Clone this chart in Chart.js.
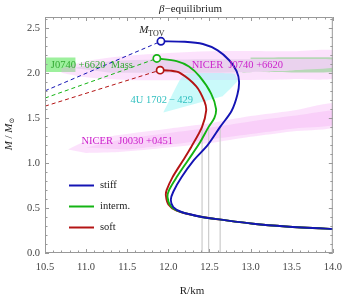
<!DOCTYPE html>
<html>
<head>
<meta charset="utf-8">
<script src="https://cdn.jsdelivr.net/npm/chart.js@4.4.1/dist/chart.umd.min.js"></script>
<style>
  html, body { margin: 0; padding: 0; background: #fff; }
  canvas { display: block; }
</style>
</head>
<body>
<canvas id="chart" width="350" height="299"></canvas>
<script>
const SERIF = '"Liberation Serif", "DejaVu Serif", serif';

// axis ticks
const xTicks = [10.5, 11.0, 11.5, 12.0, 12.5, 13.0, 13.5, 14.0];
const yTicks = [0.0, 0.5, 1.0, 1.5, 2.0, 2.5];

// mass-radius curves, R in km and M in solar masses
const stiffR = [11.91, 12.20, 12.42, 12.60, 12.74, 12.83, 12.86, 12.84, 12.77, 12.63, 12.48, 12.31, 12.16, 12.06, 12.03, 12.06, 12.16, 12.41, 12.64, 13.03, 13.43, 14.0, 14.3];
const stiffM = [2.35, 2.345, 2.32, 2.25, 2.14, 2.02, 1.90, 1.76, 1.58, 1.40, 1.20, 1.03, 0.84, 0.68, 0.59, 0.51, 0.455, 0.40, 0.37, 0.325, 0.295, 0.267, 0.255];
const intermR = [11.86, 12.10, 12.25, 12.38, 12.52, 12.58, 12.56, 12.49, 12.38, 12.24, 12.10, 12.01, 11.99, 12.03, 12.14, 12.41, 12.64, 13.03, 13.43, 14.0, 14.3];
const intermM = [2.16, 2.13, 2.07, 1.96, 1.77, 1.60, 1.50, 1.40, 1.22, 1.03, 0.84, 0.70, 0.62, 0.52, 0.46, 0.40, 0.37, 0.325, 0.295, 0.267, 0.255];
const softR = [11.90, 12.02, 12.14, 12.34, 12.44, 12.46, 12.41, 12.28, 12.18, 12.05, 11.98, 11.97, 12.00, 12.10, 12.30, 12.41, 12.64, 13.03, 13.43, 14.0, 14.3];
const softM = [2.03, 2.025, 2.00, 1.85, 1.68, 1.58, 1.40, 1.18, 1.03, 0.84, 0.70, 0.64, 0.54, 0.47, 0.42, 0.40, 0.37, 0.325, 0.295, 0.267, 0.255];

// maximum mass points and the dashed extrapolations towards smaller R
const tovR = [11.91, 11.86, 11.90];
const tovM = [2.35, 2.16, 2.03];
const dashStartR = 10.5;
const dashStartM = [1.80, 1.72, 1.63];

// radius of a 1.4 Msun star for each EOS
const r14 = [12.63, 12.49, 12.41];
const m14 = 1.4;

// observational regions
// J0740+6620 mass band, only the parts left uncovered by the NICER contour
const bandLeftR = [10.5, 10.87, 10.87, 10.5];
const bandLeftM = [2.01, 2.01, 2.17, 2.17];
const bandTopR = [13.0, 14.1, 14.1, 13.5, 13.0];
const bandTopM = [2.17, 2.17, 2.14, 2.15, 2.15];
const bandBottomR = [12.9, 14.1, 14.1, 13.5, 12.9];
const bandBottomM = [2.01, 2.01, 2.07, 2.03, 2.005];
const j0740OuterR = [10.7, 11.0, 11.5, 12.5, 13.5, 14.1, 14.1, 13.5, 12.5, 11.5, 11.0, 10.7];
const j0740OuterM = [2.05, 2.13, 2.19, 2.24, 2.24, 2.23, 1.96, 1.93, 1.92, 1.92, 1.95, 2.00];
const j0740InnerR = [10.85, 11.3, 12.5, 13.5, 14.1, 14.1, 13.5, 12.5, 11.3];
const j0740InnerM = [2.055, 2.13, 2.15, 2.15, 2.14, 2.07, 2.03, 2.00, 2.00];
const u1702R = [11.94, 12.14, 12.22, 12.80, 12.84, 12.66];
const u1702M = [1.56, 1.92, 1.99, 1.99, 1.91, 1.74];
const j0030OuterR = [10.78, 11.0, 11.4, 12.0, 12.5, 13.0, 13.5, 14.1, 14.1, 13.5, 13.0, 12.5, 12.0, 11.4, 11.0];
const j0030OuterM = [1.15, 1.24, 1.31, 1.38, 1.44, 1.52, 1.58, 1.66, 1.42, 1.35, 1.29, 1.22, 1.17, 1.12, 1.11];
const j0030InnerR = [11.0, 11.5, 12.0, 12.5, 13.0, 13.5, 14.1, 14.1, 13.5, 13.0, 12.5, 12.0, 11.5];
const j0030InnerM = [1.17, 1.27, 1.33, 1.39, 1.46, 1.52, 1.58, 1.44, 1.38, 1.32, 1.26, 1.20, 1.15];

const BLUE = '#1414b4';
const GREEN = '#14b414';
const RED = '#b41414';
const BAND = 'rgba(60,225,60,0.5)';

const pts = (xs, ys) => xs.map((v, i) => ({ x: v, y: ys[i] }));

function region(xs, ys, color, tension) {
    return {
        data: pts(xs, ys),
        borderWidth: 0,
        borderColor: 'transparent',
        backgroundColor: color,
        fill: 'shape',
        pointRadius: 0,
        tension: tension
    };
}

function curve(xs, ys, color) {
    return {
        data: pts(xs, ys),
        borderColor: color,
        borderWidth: 1.9,
        pointRadius: 0,
        fill: false,
        tension: 0.3
    };
}

const curveColors = [BLUE, GREEN, RED];
const dashed = tovR.map((r, i) => ({
    data: [{ x: dashStartR, y: dashStartM[i] }, { x: r, y: tovM[i] }],
    borderColor: curveColors[i],
    borderWidth: 1,
    borderDash: [4, 3],
    pointRadius: 0,
    fill: false
}));
const verticals = r14.map((r) => ({
    data: [{ x: r, y: 0 }, { x: r, y: m14 }],
    borderColor: '#cccccc',
    borderWidth: 1.2,
    pointRadius: 0,
    fill: false
}));

// back to front; a higher order is drawn sooner
const layers = [
    region(bandLeftR, bandLeftM, BAND, 0),
    region(bandTopR, bandTopM, BAND, 0.2),
    region(bandBottomR, bandBottomM, BAND, 0.2),
    region(j0740OuterR, j0740OuterM, 'rgba(245,160,245,0.3)', 0.3),
    region(j0740InnerR, j0740InnerM, 'rgb(234,210,238)', 0.3),
    region(u1702R, u1702M, 'rgba(150,245,245,0.5)', 0.15),
    region(j0030OuterR, j0030OuterM, 'rgba(245,160,245,0.3)', 0.3),
    region(j0030InnerR, j0030InnerM, 'rgba(240,150,240,0.25)', 0.3),
    ...verticals,
    ...dashed,
    curve(softR, softM, RED),
    curve(intermR, intermM, GREEN),
    curve(stiffR, stiffM, BLUE),
    {
        data: pts(tovR, tovM),
        showLine: false,
        pointRadius: 3.6,
        pointBorderWidth: 1.7,
        pointBackgroundColor: '#fff',
        pointBorderColor: curveColors
    }
];
layers.forEach((d, i) => { d.order = layers.length - i; });

// drawing the frame, ticks and the text labels
const decor = {
    id: 'decor',
    beforeDraw(chart) {
        const ctx = chart.ctx;
        ctx.save();
        ctx.fillStyle = '#fff';
        ctx.fillRect(0, 0, chart.width, chart.height);
        ctx.restore();
    },
    afterDatasetsDraw(chart) {
        const { ctx, chartArea: a, scales: { x, y } } = chart;
        ctx.save();
        ctx.strokeStyle = '#999';
        ctx.lineWidth = 1;
        ctx.strokeRect(a.left + 0.5, a.top + 0.5, a.right - a.left - 1, a.bottom - a.top - 1);
        ctx.beginPath();
        for (let k = 105; k <= 140; k++) {
            const px = Math.round(x.getPixelForValue(k / 10)) + 0.5;
            const len = k % 5 === 0 ? 4 : 2.5;
            ctx.moveTo(px, a.bottom); ctx.lineTo(px, a.bottom - len);
            ctx.moveTo(px, a.top); ctx.lineTo(px, a.top + len);
        }
        for (let k = 0; k <= 26; k++) {
            const py = Math.round(y.getPixelForValue(k / 10)) + 0.5;
            const len = k % 5 === 0 ? 4 : 2.5;
            ctx.moveTo(a.left, py); ctx.lineTo(a.left + len, py);
            ctx.moveTo(a.right, py); ctx.lineTo(a.right - len, py);
        }
        ctx.stroke();
        ctx.restore();
    },
    afterDraw(chart) {
        const { ctx, scales: { x, y } } = chart;
        ctx.save();
        ctx.textBaseline = 'middle';

        function label(text, r, m, color, size) {
            ctx.font = size + 'px ' + SERIF;
            ctx.fillStyle = color;
            ctx.textAlign = 'center';
            ctx.fillText(text, x.getPixelForValue(r), y.getPixelForValue(m));
        }
        label('J0740 +6620  Mass', 11.07, 2.085, '#33aa33', 10.5);
        label('NICER  J0740 +6620', 12.84, 2.085, '#cc22cc', 10.5);
        label('4U 1702\u2009\u2212\u2009429', 11.92, 1.70, '#33c0c0', 10.5);
        label('NICER  J0030 +0451', 11.50, 1.237, '#cc22cc', 10.5);

        // M_TOV
        ctx.textAlign = 'left';
        ctx.textBaseline = 'alphabetic';
        ctx.fillStyle = '#222';
        ctx.font = 'italic 11px ' + SERIF;
        const mx = x.getPixelForValue(11.645), my = y.getPixelForValue(2.44);
        ctx.fillText('M', mx, my);
        const mw = ctx.measureText('M').width;
        ctx.font = '8px ' + SERIF;
        ctx.fillText('TOV', mx + mw, my + 3);

        // legend
        const names = ['stiff', 'interm.', 'soft'];
        names.forEach((n, i) => {
            const ly = 185.5 + i * 21;
            ctx.strokeStyle = curveColors[i];
            ctx.lineWidth = 2;
            ctx.beginPath();
            ctx.moveTo(69, ly); ctx.lineTo(94, ly);
            ctx.stroke();
            ctx.fillStyle = '#222';
            ctx.font = '10.5px ' + SERIF;
            ctx.textBaseline = 'middle';
            ctx.fillText(n, 100, ly);
        });

        // title
        ctx.textBaseline = 'middle';
        ctx.fillStyle = '#222';
        const tParts = [['\u03b2', 'italic 11px '], ['\u2212equilibrium', '11px ']];
        let tw = 0;
        tParts.forEach(p => { ctx.font = p[1] + SERIF; tw += ctx.measureText(p[0]).width; });
        let tx = 190.5 - tw / 2;
        tParts.forEach(p => { ctx.font = p[1] + SERIF; ctx.fillText(p[0], tx, 9); tx += ctx.measureText(p[0]).width; });

        // x title
        ctx.font = '11px ' + SERIF;
        ctx.textAlign = 'center';
        ctx.fillText('R/km', 192, 291);

        // y title
        ctx.translate(9, 134);
        ctx.rotate(-Math.PI / 2);
        ctx.textAlign = 'left';
        const yParts = [['M', 'italic 11px ', 0], [' / ', '11px ', 0], ['M', 'italic 11px ', 0], ['\u2299', '7px ', 3]];
        let yw = 0;
        yParts.forEach(p => { ctx.font = p[1] + SERIF; yw += ctx.measureText(p[0]).width; });
        let yx = -yw / 2;
        yParts.forEach(p => { ctx.font = p[1] + SERIF; ctx.fillText(p[0], yx, p[2]); yx += ctx.measureText(p[0]).width; });
        ctx.restore();
    }
};

const graph = new Chart(document.getElementById('chart'), {
    type: 'line',
    data: { datasets: layers },
    options: {
        responsive: false,
        animation: false,
        devicePixelRatio: 1,
        events: [],
        layout: { padding: { top: 17, right: 10, left: 0, bottom: 0 } },
        scales: {
            x: {
                type: 'linear',
                min: 10.5,
                max: 14.0,
                grid: { display: false, drawTicks: false },
                border: { display: false },
                afterBuildTicks: (s) => { s.ticks = xTicks.map(v => ({ value: v })); },
                afterFit: (s) => { s.height = 46; },
                ticks: {
                    font: { family: SERIF, size: 10.5 },
                    color: '#444',
                    padding: 8,
                    maxRotation: 0,
                    autoSkip: false,
                    callback: (v) => v.toFixed(1)
                }
            },
            y: {
                type: 'linear',
                min: 0,
                max: 2.62,
                grid: { display: false, drawTicks: false },
                border: { display: false },
                afterBuildTicks: (s) => { s.ticks = yTicks.map(v => ({ value: v })); },
                afterFit: (s) => { s.width = 45; },
                ticks: {
                    font: { family: SERIF, size: 10.5 },
                    color: '#444',
                    padding: 5,
                    autoSkip: false,
                    callback: (v) => v.toFixed(1)
                }
            }
        },
        plugins: {
            legend: { display: false },
            tooltip: { enabled: false }
        }
    },
    plugins: [decor]
});
</script>
</body>
</html>
